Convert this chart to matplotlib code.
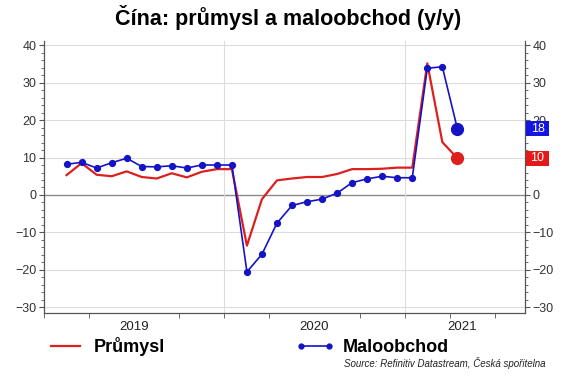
import numpy as np
import matplotlib.pyplot as plt
from matplotlib.lines import Line2D
from matplotlib.patches import Rectangle
import matplotlib.transforms as mtransforms

plt.rcParams['font.family'] = ['Liberation Sans', 'DejaVu Sans']

# monthly values Feb 2019 .. Apr 2021 (Jan carries the previous month)
months = np.arange(1, 28) + 0.5   # months since 1 Jan 2019, mid-month
prumysl = [5.3, 8.5, 5.4, 5.0, 6.3, 4.8, 4.4, 5.8, 4.7, 6.2, 6.9, 6.9,
           -13.5, -1.1, 3.9, 4.4, 4.8, 4.8, 5.6, 6.9, 6.9, 7.0, 7.3, 7.3,
           35.1, 14.1, 9.8]
maloobchod = [8.2, 8.7, 7.2, 8.6, 9.8, 7.6, 7.5, 7.8, 7.2, 8.0, 8.0, 8.0,
              -20.5, -15.8, -7.5, -2.8, -1.8, -1.1, 0.5, 3.3, 4.3, 5.0, 4.6, 4.6,
              33.8, 34.2, 17.7]

years = ['2019', '2020', '2021']
year_pos = [6, 18, 27.8]
year_lines = [12, 24]

red = '#dd1f1f'
blue = '#1414c4'

fig = plt.figure(figsize=(5.62, 3.79), dpi=100)
ax = fig.add_axes([44/562, 1-313/379, 481/562, (313-41)/379])

ax.set_xlim(0, 32)
ax.set_ylim(-31.47, 41.07)

# grid
for v in range(-30, 41, 10):
    if v == 0:
        ax.axhline(v, color='#8a8a8a', lw=1.0, zorder=1)
    else:
        ax.axhline(v, color='#dcdcdc', lw=0.8, zorder=1)
for xv in year_lines:
    ax.axvline(xv, color='#dcdcdc', lw=0.8, zorder=1)

ax.plot(months, prumysl, color=red, lw=1.6, zorder=3)
ax.plot(months, maloobchod, color=blue, lw=1.2, marker='o', ms=4.2, zorder=4)
ax.plot(months[-1], prumysl[-1], 'o', color=red, ms=8.5, zorder=5)
ax.plot(months[-1], maloobchod[-1], 'o', color=blue, ms=8.5, zorder=5)

# axes styling
ax.spines['top'].set_visible(False)
for s in ['left', 'right', 'bottom']:
    ax.spines[s].set_color('#555555')
    ax.spines[s].set_linewidth(0.9)

ax.set_yticks(range(-30, 41, 10))
ax.set_yticks(range(-30, 41, 2), minor=True)
ax.tick_params(axis='y', which='both', direction='out', left=True, right=True,
               labelleft=True, labelright=True, color='#555555')
ax.tick_params(axis='y', which='major', length=3.5, labelsize=9,
               labelcolor='#333333', pad=2)
ax.tick_params(axis='y', which='minor', length=2)

# year labels as major ticks (no mark), quarter marks as minor ticks
ax.set_xticks(year_pos)
ax.set_xticklabels(years)
ax.set_xticks(np.arange(0, 33, 3), minor=True)
ax.tick_params(axis='x', which='minor', length=3.5, color='#555555', direction='out')
ax.tick_params(axis='x', which='major', length=0, labelsize=9.5,
               labelcolor='#222222', pad=6)

# value boxes on the right axis
trans = mtransforms.blended_transform_factory(ax.transAxes, ax.transData)
for val, col in [(maloobchod[-1], '#1515e0'), (prumysl[-1], '#e41a1a')]:
    ax.add_patch(Rectangle((1.002, val - 2.0), 0.048, 4.0, transform=trans,
                           facecolor=col, edgecolor='none', clip_on=False, zorder=6))
    ax.text(1.026, val, f'{val:.0f}', transform=trans, ha='center', va='center',
            color='white', fontsize=9, zorder=7, clip_on=False)

fig.text(0.513, 0.953, 'Čína: průmysl a maloobchod (y/y)', ha='center', va='center',
         fontsize=15.5, fontweight='bold')

handles = [Line2D([], [], color=red, lw=1.6),
           Line2D([], [], color=blue, lw=1.2, marker='o', ms=3.5)]
fig.legend(handles, ['Průmysl', 'Maloobchod'], ncol=2, loc='center left',
           bbox_to_anchor=(46/562, 1-347/379), frameon=False, borderpad=0,
           borderaxespad=0, handlelength=2.2, handletextpad=0.45,
           columnspacing=7.2, numpoints=2, prop={'weight': 'bold', 'size': 13})

fig.text(545/562, 1-363/379, 'Source: Refinitiv Datastream, Česká spořitelna',
         ha='right', va='center', fontsize=7, style='italic', color='#222222')

fig.savefig('out.png', dpi=100)
